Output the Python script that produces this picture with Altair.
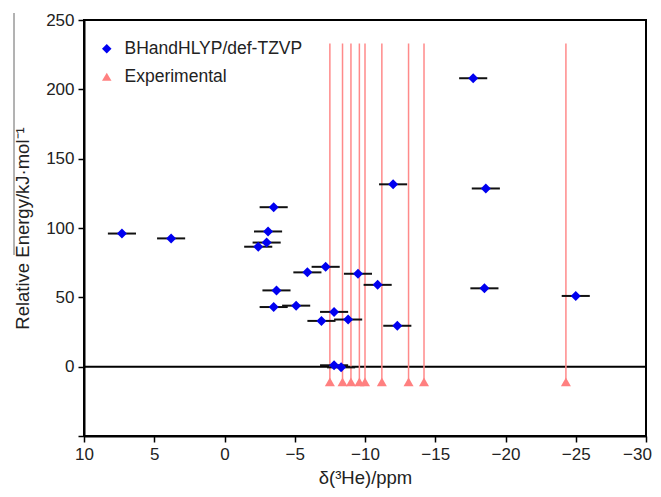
import altair as alt
import pandas as pd

# Calculated (BHandHLYP/def-TZVP) chemical shifts (ppm) and relative energies (kJ/mol)
calc_shift = [7.3, 3.8, -3.5, -3.1, -3.0, -2.4, -5.9, -7.2, -9.5, -10.9, -3.7, -3.5,
              -5.1, -7.8, -6.9, -8.8, -12.3, -7.8, -8.3, -12.0, -17.7, -18.6, -18.5, -25.0]
calc_energy = [96, 92.5, 115, 97.5, 89.5, 86.5, 68, 72, 67, 59, 55, 43,
               44, 39.5, 33, 34, 29.5, 1, -0.5, 131.5, 208, 128.5, 56.5, 51]
calc_err = [1.0] * len(calc_shift)

# Experimental shifts (ppm)
exp_shift = [-7.5, -8.4, -9.0, -9.6, -10.0, -11.2, -13.1, -14.2, -24.3]
exp_marker_y = -11
exp_line_top = 233

series_names = ["BHandHLYP/def-TZVP", "Experimental"]
series_colors = ["#0000F0", "#FF8080"]
series_shapes = ["diamond", "triangle-up"]

calc = pd.DataFrame({
    "shift": calc_shift,
    "energy": calc_energy,
    "lo": [s - e for s, e in zip(calc_shift, calc_err)],
    "hi": [s + e for s, e in zip(calc_shift, calc_err)],
    "series": series_names[0],
})
exp = pd.DataFrame({
    "shift": exp_shift,
    "y": [exp_marker_y] * len(exp_shift),
    "ytop": [exp_line_top] * len(exp_shift),
    "series": series_names[1],
})

FONT = "Liberation Sans"
FS = 17
TFS = 18.5

xscale = alt.Scale(domain=[-30, 10], reverse=True, nice=False, zero=False)
yscale = alt.Scale(domain=[-50, 250], nice=False, zero=False)

xaxis = alt.Axis(values=list(range(-30, 11, 5)), title="δ(³He)/ppm", grid=False,
                 labelFlush=False, labelOverlap=False,
                 labelOffset={"condition": {"test": "datum.value == -30", "value": -9},
                              "value": 0})
yaxis = alt.Axis(values=list(range(-50, 251, 50)), title="Relative Energy/kJ·mol⁻¹",
                 grid=False, labelFlush=False, labelOverlap=False,
                 labelExpr="datum.value == -50 ? '' : datum.label")

color = alt.Color("series:N", scale=alt.Scale(domain=series_names, range=series_colors),
                  legend=alt.Legend(title=None, orient="none", legendX=14, legendY=20,
                                    labelFontSize=17.5, labelFont=FONT, labelColor="#222",
                                    labelLimit=0,
                                    symbolSize=90, rowPadding=9, labelOffset=9,
                                    symbolStrokeWidth=0, padding=0))
shape = alt.Shape("series:N", scale=alt.Scale(domain=series_names, range=series_shapes),
                  legend=None)

zero_line = alt.Chart(pd.DataFrame({"y": [0]})).mark_rule(
    color="black", strokeWidth=2).encode(y=alt.Y("y:Q", scale=yscale, axis=yaxis))

exp_lines = alt.Chart(exp).mark_rule(color="#FF8A8A", strokeWidth=1.5).encode(
    x=alt.X("shift:Q", scale=xscale, axis=xaxis),
    y=alt.Y("y:Q", scale=yscale, axis=yaxis),
    y2="ytop:Q",
)

exp_pts = alt.Chart(exp).mark_point(filled=True, opacity=1, size=100).encode(
    x=alt.X("shift:Q", scale=xscale, axis=xaxis),
    y=alt.Y("y:Q", scale=yscale, axis=yaxis),
    color=color, shape=shape,
)

err = alt.Chart(calc).mark_rule(color="#111", strokeWidth=2).encode(
    x=alt.X("lo:Q", scale=xscale, axis=xaxis),
    x2="hi:Q",
    y=alt.Y("energy:Q", scale=yscale, axis=yaxis),
)

calc_pts = alt.Chart(calc).mark_point(filled=True, opacity=1, size=100).encode(
    x=alt.X("shift:Q", scale=xscale, axis=xaxis),
    y=alt.Y("energy:Q", scale=yscale, axis=yaxis),
    color=color, shape=shape,
)

artifact = alt.Chart(pd.DataFrame({"a": [0]})).mark_rule(
    color="#666", strokeWidth=1).encode(
    x=alt.value(-70), y=alt.value(-7), y2=alt.value(235))

chart = alt.layer(zero_line, exp_lines, err, exp_pts, calc_pts, artifact).resolve_scale(
    color="shared", shape="shared"
).properties(
    width=562, height=416,
    autosize=alt.AutoSizeParams(type="none"),
    padding={"left": 76, "top": 12, "right": 7, "bottom": 53},
).configure_view(
    stroke="black", strokeWidth=2
).configure_axis(
    domainColor="black", domainWidth=2, tickColor="black", tickWidth=1.5, tickSize=6,
    labelFont=FONT, labelFontSize=FS, labelColor="#222", labelPadding=4,
    titleFont=FONT, titleFontSize=TFS, titleColor="#222", titleFontWeight="normal",
).configure_axisX(titlePadding=6).configure_axisY(titlePadding=13)

chart.save("out.html", embed_options={"renderer": "svg", "actions": False})
